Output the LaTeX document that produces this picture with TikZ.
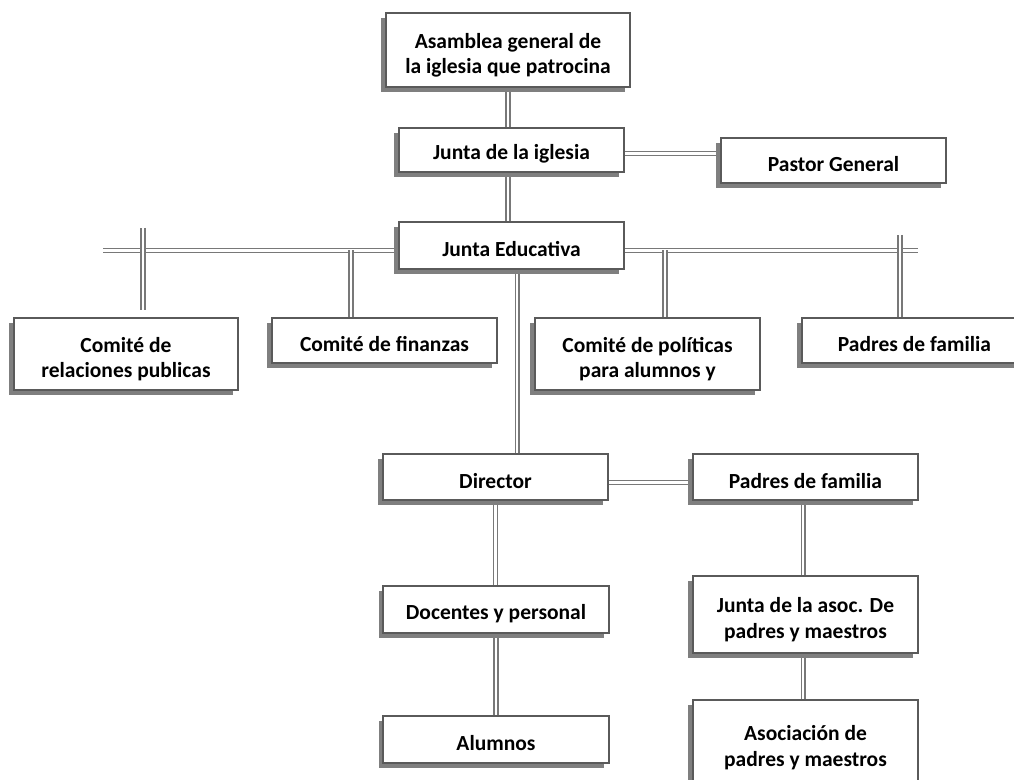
\documentclass[tikz,border=0pt]{standalone}
\usepackage{fontspec}
\setmainfont{Carlito}
\usetikzlibrary{shadows,backgrounds}
\definecolor{boxline}{HTML}{5A5A5A}
\definecolor{shade}{HTML}{7F7F7F}
\definecolor{wire}{HTML}{787878}
\begin{document}
\begin{tikzpicture}[x=0.025cm, y=-0.025cm,
    box/.style={rectangle, draw=boxline, line width=1.4pt, fill=white,
      align=center, inner sep=2pt, minimum width=5.625cm,
      font=\fontsize{15.3}{18}\selectfont\bfseries,
      execute at begin node={\rule{0pt}{16pt}},
      drop shadow={shadow xshift=-0.12cm, shadow yshift=-0.12cm,
        fill=shade, opacity=1}},
    twoline/.style={execute at begin node={\rule{0pt}{36pt}}},
    link/.style={draw=wire, double=white, line width=1.05pt, double distance=1.6pt}]
  \useasboundingbox (0,0) rectangle (1014,780);
  \clip (0,0) rectangle (1014,780);

  \begin{scope}
    \node[box, twoline, minimum width=6.1cm, minimum height=1.85cm] (asamblea) at (508,50)
    {Asamblea general de\\la iglesia que patrocina};
    \node[box, minimum height=1.1cm] (iglesia) at (511.5,150) {Junta de la iglesia};
    \node[box, minimum height=1.12cm] (pastor) at (833.5,160.5) {Pastor General};
    \node[box, minimum height=1.17cm] (educ) at (511.5,245.5) {Junta Educativa};
  \end{scope}

  \begin{scope}
    \node[box, twoline, minimum width=5.6cm, minimum height=1.8cm] (relaciones) at
    (126,354) {Comité de\\relaciones publicas}; \node[box, minimum height=1.12cm]
    (finanzas) at (384.5,340.5) {Comité de finanzas}; \node[box, twoline, minimum
    height=1.8cm] (politicas) at (647.5,354) {Comité de políticas\\para
      alumnos y}; \node[box, minimum height=1.12cm] (padresA) at
    (914.5,340.5) {Padres de familia};
  \end{scope}

  \begin{scope}
    \node[box, minimum height=1.15cm] (director) at (495.5,477) {Director};
    \node[box, minimum height=1.15cm] (padresB) at (805.5,477) {Padres de familia};
    \node[box, minimum height=1.17cm] (docentes) at (496,609.5) {Docentes y personal};
    \node[box, minimum height=1.17cm] (alumnos) at (496,739.5) {Alumnos};
    \node[box, twoline, minimum height=1.92cm] (juntaasoc) at (805.5,614.5)
    {Junta de la asoc. De\\padres y maestros};
    \node[box, twoline, minimum height=2.12cm] (asociacion) at (805.5,742.5)
    {Asociación de\\padres y maestros};
  \end{scope}

  \coordinate (busL) at (103,250.5); \coordinate (busR) at (918,250.5);
  \coordinate (relA) at (143,228); \coordinate (relB) at (143,310);
  \coordinate (finA) at (351,250.5); \coordinate (polA) at (665,250.5);
  \coordinate (padA) at (900,235);

  \begin{scope}[on background layer]
    \draw[link] (asamblea.south) -- (asamblea.south |- iglesia.north);
    \draw[link] (iglesia.south -| asamblea.south) -- (educ.north -| asamblea.south);
    \draw[link] ([yshift=-0.09cm]iglesia.east) -- ([yshift=-0.09cm]iglesia.east -| pastor.west);
    \draw[link] (busL) -- (busR); \draw[link] (relA) -- (relB);
    \draw[link] (finA) -- (finA |- finanzas.north); \draw[link] (polA) --
    (polA |- politicas.north); \draw[link] (padA) -- (padA |- padresA.north);

    \draw[link] ([xshift=0.14cm]educ.south) -- ([xshift=0.14cm]educ.south |- director.north);
    \draw[link] ([yshift=-0.14cm]director.east) -- ([yshift=-0.14cm]director.east -| padresB.west);
    \draw[link] (director.south) -- (director.south |- docentes.north); \draw[link]
    (docentes.south) -- (docentes.south |- alumnos.north);
    \draw[link] ([xshift=-0.06cm]padresB.south) -- ([xshift=-0.06cm]padresB.south |- juntaasoc.north);
    \draw[link] ([xshift=-0.06cm]juntaasoc.south) -- ([xshift=-0.06cm]juntaasoc.south |- asociacion.north);
  \end{scope}
\end{tikzpicture}
\end{document}
